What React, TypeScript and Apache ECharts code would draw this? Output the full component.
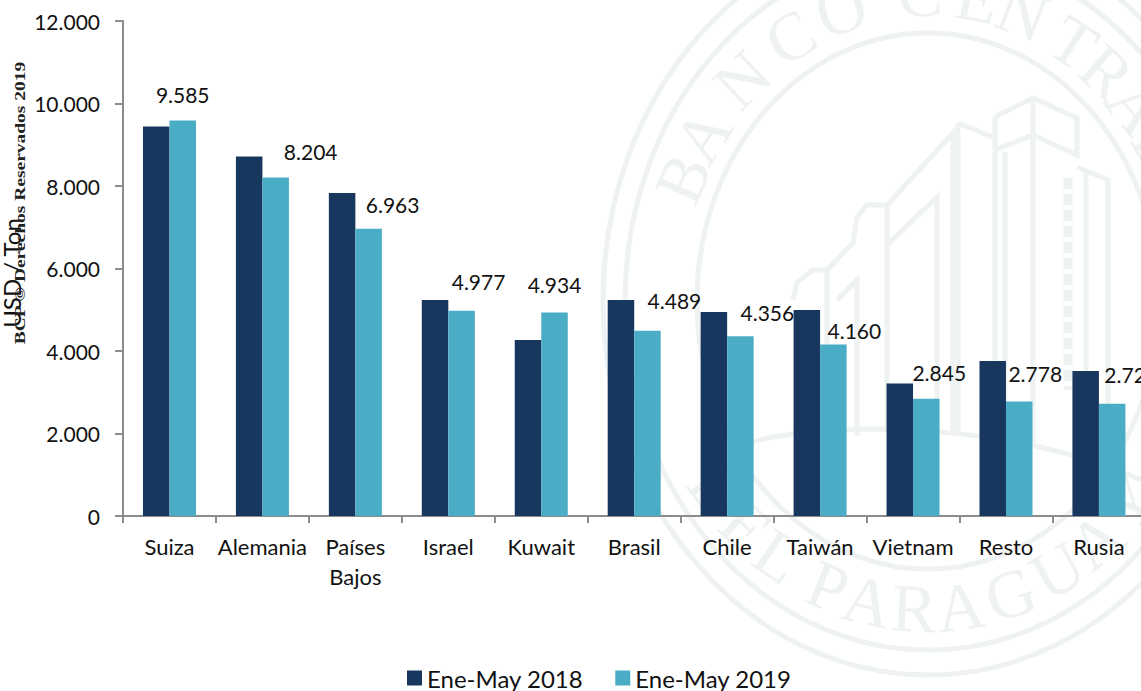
import React, { useEffect, useRef } from "react";
import * as echarts from "echarts";

const categories = ["Suiza", "Alemania", "Países\nBajos", "Israel", "Kuwait", "Brasil", "Chile", "Taiwán", "Vietnam", "Resto", "Rusia"];
const values2018 = [9442, 8715, 7830, 5236, 4267, 5236, 4945, 4994, 3212, 3758, 3515];
const values2019 = [9585, 8204, 6963, 4977, 4934, 4489, 4356, 4160, 2845, 2778, 2720];
const seriesNames = ["Ene-May 2018", "Ene-May 2019"];
const yTicks = { min: 0, max: 12000, interval: 2000 };

// Hand-placed label offsets, as in the reference
const labelDx = [0, 35, 24, 17, 0, 27, 27, 21, 13, 16, 19];
const labelDy = [-11, -11, -9, -14, -12, -15, -8, 2, -11, -12, -14];

// Watermark layout
const INK = "#eff2f2";
const WM_CX = 928;
const WM_CY = 301;
const wmRings = [
  { rx: 325, ry: 374 },
  { rx: 303, ry: 349 },
  { rx: 231, ry: 268 },
];
const wmTopLetters: [string, number][] = [
  ["B", -66.6], ["A", -57.5], ["N", -44], ["C", -31], ["O", -19],
  ["C", -1.7], ["E", 10.6], ["N", 20.8], ["T", 33], ["R", 42], ["A", 51], ["L", 60],
];
const wmBottomLetters: [string, number][] = [
  ["D", -52], ["E", -43], ["L", -34], ["P", -22], ["A", -13], ["R", -3],
  ["A", 7], ["G", 18], ["U", 29], ["A", 39], ["Y", 49],
];
const wmLines: number[][][] = [
  [[793, 300], [797, 282], [813, 270], [827, 270], [853, 243], [857, 217], [867, 205], [887, 205], [953, 133], [953, 436]],
  [[887, 205], [887, 432]],
  [[887, 245], [937, 197], [937, 432]],
  [[827, 270], [827, 436]],
  [[837, 300], [857, 280], [857, 436]],
  [[958, 123], [995, 138]],
  [[958, 123], [958, 436]],
  [[995, 117], [1033, 98], [1077, 118], [1077, 155], [1033, 135], [995, 150]],
  [[995, 117], [995, 440]],
  [[1033, 98], [1033, 445]],
  [[1005, 152], [1005, 442]],
  [[1077, 167], [1108, 180], [1108, 455]],
  [[1086, 170], [1086, 450]],
];
const wmColumnDash = [[1068, 178], [1068, 390]];

function thousands(v: number): string {
  return String(v).replace(/\B(?=(\d{3})+$)/g, ".");
}

function watermark(): any[] {
  const els: any[] = [];
  wmRings.forEach((r) =>
    els.push({ type: "ellipse", silent: true, shape: { cx: WM_CX, cy: WM_CY, rx: r.rx, ry: r.ry }, style: { fill: "none", stroke: INK, lineWidth: 5 } })
  );
  const letter = (ch: string, x: number, y: number, rot: number) => ({
    type: "text", silent: true, x, y, rotation: rot,
    style: { text: ch, fill: INK, font: '68px "Liberation Serif"', align: "center", verticalAlign: "middle" },
  });
  wmTopLetters.forEach(([ch, d]) => {
    const t = (d * Math.PI) / 180;
    els.push(letter(ch, WM_CX + 267 * Math.sin(t), WM_CY - 308 * Math.cos(t), -t));
  });
  wmBottomLetters.forEach(([ch, d]) => {
    const t = (d * Math.PI) / 180;
    els.push(letter(ch, WM_CX + 267 * Math.sin(t), WM_CY + 308 * Math.cos(t), t));
  });
  wmLines.forEach((pts) =>
    els.push({ type: "polyline", silent: true, shape: { points: pts }, style: { fill: "none", stroke: INK, lineWidth: 5 } })
  );
  els.push({ type: "polyline", silent: true, shape: { points: wmColumnDash }, style: { fill: "none", stroke: INK, lineWidth: 9, lineDash: [11, 5] } });
  els.push({
    type: "bezierCurve", silent: true,
    shape: { x1: 752, y1: 442, cpx1: 840, cpy1: 418, cpx2: 1020, cpy2: 425, x2: 1141, y2: 480 },
    style: { fill: "none", stroke: INK, lineWidth: 5 },
  });
  return els;
}

export default function App() {
  const ref = useRef<HTMLDivElement>(null);
  useEffect(() => {
    const chart = echarts.init(ref.current!, undefined, { renderer: "svg" });
    const fontFamily = "Lato";
    chart.setOption({
      animation: false,
      backgroundColor: "#ffffff",
      grid: { left: 123, top: 21, width: 1022.4, height: 495, containLabel: false, outerBoundsMode: "none" },
      legend: {
        left: 402, top: 659, itemWidth: 15, itemHeight: 15, itemGap: 32, icon: "rect",
        textStyle: { fontFamily, fontSize: 24, color: "#111111", lineHeight: 28 },
        data: seriesNames,
      },
      xAxis: {
        type: "category", data: categories,
        axisLine: { lineStyle: { color: "#8c8c8c", width: 2 } },
        axisTick: { show: true, length: 7, alignWithLabel: false, lineStyle: { color: "#8c8c8c", width: 2 } },
        axisLabel: { interval: 0, margin: 15, fontFamily, fontSize: 22, lineHeight: 30, color: "#111111" },
      },
      yAxis: {
        type: "value", ...yTicks,
        name: "USD / Ton", nameLocation: "middle", nameGap: 89, nameRotate: 90,
        nameTextStyle: { fontFamily, fontSize: 24, color: "#111111", padding: [0, 9, 0, 0] },
        splitLine: { show: false },
        axisLine: { show: true, lineStyle: { color: "#8c8c8c", width: 2 } },
        axisTick: { show: true, length: 8, lineStyle: { color: "#8c8c8c", width: 2 } },
        axisLabel: { margin: 23, fontFamily, fontSize: 21, color: "#111111", formatter: (v: number) => thousands(v) },
      },
      graphic: {
        elements: [
          ...watermark(),
          {
            type: "text", silent: true, z: 100, x: 20, y: 203, rotation: Math.PI / 2, scaleX: 1.3,
            style: { text: "BCP © Derechos Reservados 2019", fill: "#222222", font: 'bold 15px "Liberation Serif"', align: "center", verticalAlign: "middle" },
          },
        ],
      },
      series: [
        {
          name: seriesNames[0], type: "bar", barWidth: 26.5, barGap: 0,
          itemStyle: { color: "#18375f" }, data: values2018,
        },
        {
          name: seriesNames[1], type: "bar", barWidth: 26.5, barGap: 0,
          itemStyle: { color: "#4bacc6" },
          data: values2019.map((v, i) => ({
            value: v,
            label: { show: true, position: "top", offset: [labelDx[i], labelDy[i]], formatter: thousands(v), fontFamily, fontSize: 21, color: "#111111" },
          })),
        },
      ],
    });
    return () => chart.dispose();
  }, []);
  return <div ref={ref} style={{ position: "absolute", left: 0, top: 0, width: 1141, height: 691 }} />;
}
